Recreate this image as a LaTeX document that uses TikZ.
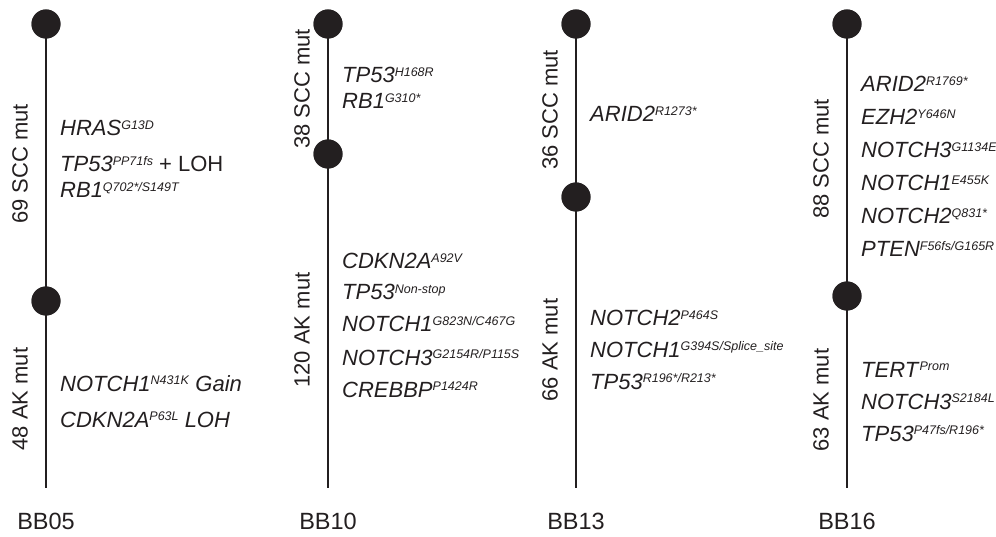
\documentclass[tikz,border=0pt]{standalone}
\usepackage{fontspec}
\setmainfont{Liberation Sans}
\definecolor{ink}{HTML}{231F20}
\newcommand\gn[2]{\textit{#1}\raisebox{6.6pt}{\fontsize{12.5}{13}\selectfont\textit{#2}}}
\begin{document}
\begin{tikzpicture}[x=1pt,y=-1pt,
  dotnode/.style={circle,fill=ink,inner sep=0pt,minimum size=29pt},
  stem/.style={draw=ink,line width=2pt},
  gene/.style={anchor=base west,inner sep=0pt,text=ink,font=\fontsize{22}{24}\selectfont},
  phase/.style={rotate=90,anchor=center,inner sep=0pt,text=ink,font=\fontsize{22}{24}\selectfont},
  sample/.style={anchor=base,inner sep=0pt,text=ink,font=\fontsize{23.5}{26}\selectfont}]
\useasboundingbox (0,0) rectangle (996,537);
% ---------- BB05
\coordinate (e1) at (46,488);
\node[dotnode] (a1) at (46,24) {};
\node[dotnode] (b1) at (46,301) {};
\draw[stem] (a1.center) -- (b1.center) -- (e1);
\node[dotnode] at (a1) {};
\node[dotnode] at (b1) {};
\node[phase] (s1) at (20,164) {69 SCC mut};
\node[phase] (k1) at (20,399) {48 AK mut};
\node[gene] (g11) at (60,136) {\gn{HRAS}{G13D}};
\node[gene] (g12) at (60,172) {\gn{TP53}{PP71fs} + LOH};
\node[gene] (g13) at (60,198) {\gn{RB1}{Q702*/S149T}};
\node[gene] (g14) at (60,391) {\gn{NOTCH1}{N431K} \textit{Gain}};
\node[gene] (g15) at (60,427) {\gn{CDKN2A}{P63L} \textit{LOH}};
\node[sample] (l1) at (46,529) {BB05};
% ---------- BB10
\coordinate (e2) at (328,488);
\node[dotnode] (a2) at (328,24) {};
\node[dotnode] (b2) at (328,154) {};
\draw[stem] (a2.center) -- (b2.center) -- (e2);
\node[dotnode] at (a2) {};
\node[dotnode] at (b2) {};
\node[phase] (s2) at (302,89) {38 SCC mut};
\node[phase] (k2) at (302,330) {120 AK mut};
\node[gene] (g21) at (342,83) {\gn{TP53}{H168R}};
\node[gene] (g22) at (342,109) {\gn{RB1}{G310*}};
\node[gene] (g23) at (342,269) {\gn{CDKN2A}{A92V}};
\node[gene] (g24) at (342,300) {\gn{TP53}{Non-stop}};
\node[gene] (g25) at (342,332) {\gn{NOTCH1}{G823N/C467G}};
\node[gene] (g26) at (342,365) {\gn{NOTCH3}{G2154R/P115S}};
\node[gene] (g27) at (342,397) {\gn{CREBBP}{P1424R}};
\node[sample] (l2) at (328,529) {BB10};
% ---------- BB13
\coordinate (e3) at (576,488);
\node[dotnode] (a3) at (576,24) {};
\node[dotnode] (b3) at (576,197) {};
\draw[stem] (a3.center) -- (b3.center) -- (e3);
\node[dotnode] at (a3) {};
\node[dotnode] at (b3) {};
\node[phase] (s3) at (550,110) {36 SCC mut};
\node[phase] (k3) at (550,350) {66 AK mut};
\node[gene] (g31) at (590,122) {\gn{ARID2}{R1273*}};
\node[gene] (g32) at (590,326) {\gn{NOTCH2}{P464S}};
\node[gene] (g33) at (590,357) {\gn{NOTCH1}{G394S/Splice\_site}};
\node[gene] (g34) at (590,389) {\gn{TP53}{R196*/R213*}};
\node[sample] (l3) at (576,529) {BB13};
% ---------- BB16
\coordinate (e4) at (847,488);
\node[dotnode] (a4) at (847,24) {};
\node[dotnode] (b4) at (847,296) {};
\draw[stem] (a4.center) -- (b4.center) -- (e4);
\node[dotnode] at (a4) {};
\node[dotnode] at (b4) {};
\node[phase] (s4) at (821,159) {88 SCC mut};
\node[phase] (k4) at (821,400) {63 AK mut};
\node[gene] (g41) at (861,92) {\gn{ARID2}{R1769*}};
\node[gene] (g42) at (861,125) {\gn{EZH2}{Y646N}};
\node[gene] (g43) at (861,158) {\gn{NOTCH3}{G1134E}};
\node[gene] (g44) at (861,191) {\gn{NOTCH1}{E455K}};
\node[gene] (g45) at (861,224) {\gn{NOTCH2}{Q831*}};
\node[gene] (g46) at (861,257) {\gn{PTEN}{F56fs/G165R}};
\node[gene] (g47) at (861,377) {\gn{TERT}{Prom}};
\node[gene] (g48) at (861,409) {\gn{NOTCH3}{S2184L}};
\node[gene] (g49) at (861,441) {\gn{TP53}{P47fs/R196*}};
\node[sample] (l4) at (847,529) {BB16};
\end{tikzpicture}
\end{document}
